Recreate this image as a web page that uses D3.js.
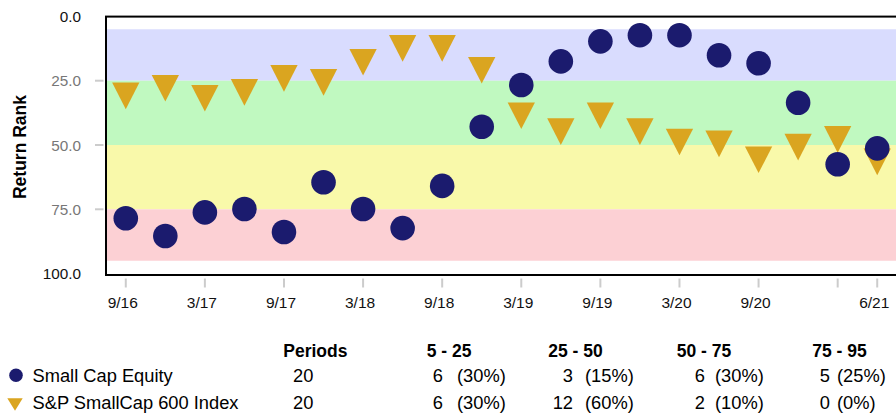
<!DOCTYPE html>
<html>
<head>
<meta charset="utf-8">
<script src="https://cdn.jsdelivr.net/npm/d3@7"></script>
<style>
  html, body { margin: 0; padding: 0; background: #ffffff; }
  svg { display: block; font-family: "Liberation Sans", Arial, Helvetica, sans-serif; }
</style>
</head>
<body>
<svg id="chart" width="896" height="413"></svg>
<script>
// ---------------- DATA ----------------
const quarters = ["9/16","12/16","3/17","6/17","9/17","12/17","3/18","6/18","9/18","12/18",
                  "3/19","6/19","9/19","12/19","3/20","6/20","9/20","12/20","3/21","6/21"];
const tickIndex = [0, 2, 4, 6, 8, 10, 12, 14, 16, 18, 19];
const tickLabels = ["9/16","3/17","9/17","3/18","9/18","3/19","9/19","3/20","9/20","","6/21"];
const yTicks = [0, 25, 50, 75, 100];
const bandEdges = [5, 25, 50, 75, 95];

const seriesNames = ["Small Cap Equity", "S&P SmallCap 600 Index"];
const equityRank = [78.5, 85.4, 76.2, 74.9, 83.8, 64.5, 74.9, 82.3, 65.9, 42.9,
                    26.7, 17.5, 9.7, 7.3, 7.3, 15.1, 18.2, 33.6, 57.5, 51.3];
const indexRank  = [29.2, 26.2, 30.1, 27.8, 22.4, 23.9, 16.1, 10.7, 10.7, 19.2,
                    36.9, 43.1, 36.9, 43.1, 47.1, 47.8, 54.0, 49.1, 46.1, 54.8];

const tableHeaders = ["Periods", "5 - 25", "25 - 50", "50 - 75", "75 - 95"];
const periods = [20, 20];
const equityCounts = [6, 3, 6, 5];
const indexCounts  = [6, 12, 2, 0];

// ---------------- STYLE ----------------
const bandColors = ["#D9DCFE", "#C0F9C0", "#F9F9AA", "#FCD0D4"];
const circleColor = "#1B1B6E";
const triColor = "#DAA520";

const svg = d3.select("#chart");

const x = d3.scaleLinear().domain([-0.5, 19.5]).range([106, 897]);
const y = d3.scaleLinear().domain([0, 100]).range([16.4, 273.6]);

const plotTop = 16.6, plotBottom = 275;
const plotLeft = x(-0.5), plotRight = x(19.5);

// bands
const bands = d3.range(bandEdges.length - 1).map(i => ({lo: bandEdges[i], hi: bandEdges[i+1], c: bandColors[i]}));
svg.append("g").selectAll("rect").data(bands).join("rect")
  .attr("x", plotLeft).attr("width", plotRight - plotLeft)
  .attr("y", d => y(d.lo)).attr("height", d => y(d.hi) - y(d.lo))
  .attr("fill", d => d.c);

// border
svg.append("rect")
  .attr("x", plotLeft).attr("y", plotTop)
  .attr("width", plotRight - plotLeft).attr("height", plotBottom - plotTop)
  .attr("fill", "none").attr("stroke", "#000").attr("stroke-width", 2);

// y axis ticks & labels
const yg = svg.append("g");
yg.selectAll("line").data(yTicks.filter(v => v > 0 && v < 100)).join("line")
  .attr("x1", 95).attr("x2", 103.5)
  .attr("y1", d => y(d)).attr("y2", d => y(d))
  .attr("stroke", "#cccccc").attr("stroke-width", 2);
yg.selectAll("text").data(yTicks).join("text")
  .attr("x", 81).attr("y", d => y(d))
  .attr("dy", "0.36em")
  .attr("text-anchor", "end")
  .attr("font-size", "15.3px")
  .attr("fill", d => (d === 0 || d === 100) ? "#111111" : "#777777")
  .text(d => d3.format(".1f")(d));

// y title
svg.append("text")
  .attr("transform", "translate(26,147) rotate(-90)")
  .attr("text-anchor", "middle")
  .attr("font-size", "17.5px").attr("font-weight", "bold")
  .attr("fill", "#000")
  .text("Return Rank");

// x axis ticks & labels
const xg = svg.append("g");
xg.selectAll("line").data(tickIndex).join("line")
  .attr("x1", d => x(d)).attr("x2", d => x(d))
  .attr("y1", 278.5).attr("y2", 287.5)
  .attr("stroke", "#cccccc").attr("stroke-width", 2);
xg.selectAll("text").data(tickIndex).join("text")
  .attr("x", d => x(d) - 3).attr("y", 307.5)
  .attr("text-anchor", "middle")
  .attr("font-size", "15.5px")
  .attr("fill", "#111")
  .text((d, i) => tickLabels[i]);

// markers
const triW = 27.3, triH = 26.7;
const triPath = (w, h) => `M0,${2*h/3}L${-w/2},${-h/3}L${w/2},${-h/3}Z`;

svg.append("g").selectAll("path").data(indexRank).join("path")
  .attr("transform", (d, i) => `translate(${x(i)},${y(d)})`)
  .attr("d", triPath(triW, triH))
  .attr("fill", triColor);

svg.append("g").selectAll("circle").data(equityRank).join("circle")
  .attr("cx", (d, i) => x(i)).attr("cy", d => y(d))
  .attr("r", 12.3)
  .attr("fill", circleColor);

// ---------------- TABLE / LEGEND ----------------
const headerX = [283.3, 426.7, 548.3, 676.7, 812.3];
const numEndX = [443, 573, 705, 830];
const pctStartX = [457, 585, 715, 837];
const headerY = 356.5;
const rowY = [381.5, 409];

svg.append("g").selectAll("text").data(tableHeaders).join("text")
  .attr("x", (d, i) => headerX[i]).attr("y", headerY)
  .attr("font-size", "17.5px").attr("font-weight", "bold")
  .attr("fill", "#000")
  .text(d => d);

// legend markers
svg.append("circle").attr("cx", 16).attr("cy", 375.3).attr("r", 6.8).attr("fill", circleColor);
svg.append("path").attr("transform", "translate(15,402.4)").attr("d", triPath(15.4, 12.4)).attr("fill", triColor);

const rows = [
  {name: seriesNames[0], periods: periods[0], counts: equityCounts},
  {name: seriesNames[1], periods: periods[1], counts: indexCounts}
];
const rg = svg.append("g").attr("font-size", "18.3px").attr("fill", "#000");
rows.forEach((r, ri) => {
  rg.append("text").attr("x", 32.5).attr("y", rowY[ri]).text(r.name);
  rg.append("text").attr("x", 293).attr("y", rowY[ri]).text(r.periods);
  r.counts.forEach((c, ci) => {
    rg.append("text").attr("x", numEndX[ci]).attr("y", rowY[ri])
      .attr("text-anchor", "end").text(c);
    rg.append("text").attr("x", pctStartX[ci]).attr("y", rowY[ri])
      .text(`(${Math.round(c / r.periods * 100)}%)`);
  });
});
</script>
</body>
</html>
